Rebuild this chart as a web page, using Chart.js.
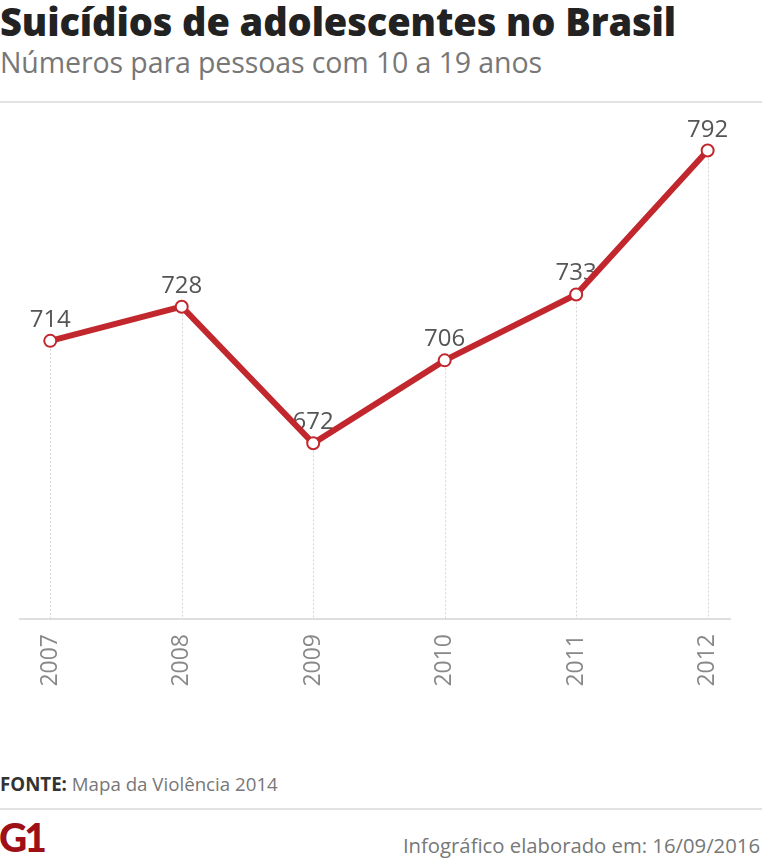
<!DOCTYPE html>
<html>
<head>
<meta charset="utf-8">
<script src="https://cdn.jsdelivr.net/npm/chart.js@4"></script>
<style>
  body { margin: 0; background: #fff; width: 762px; height: 860px; position: relative; overflow: hidden; font-family: "Open Sans", sans-serif; }
  .abs { position: absolute; white-space: nowrap; }
  #titulo { left: 0; top: -5px; font: 800 38px "Open Sans", sans-serif; color: #222; letter-spacing: -0.1px; }
  #subtitulo { left: 0; top: 43px; font: 400 28.5px "Open Sans", sans-serif; color: #777; letter-spacing: -0.1px; }
  .linha { position: absolute; left: 0; width: 762px; height: 2px; background: #e2e2e2; }
  #fonte { left: 0; top: 771px; font: 400 18.7px "Open Sans", sans-serif; color: #777; }
  #fonte b { color: #333; font-weight: 700; }
  #logo { left: -1px; top: 814px; font: 900 39px Lato, sans-serif; color: #9e0f16; letter-spacing: -3px; }
  #data { right: 2px; top: 831px; font: 400 20.3px "Open Sans", sans-serif; color: #777; }
  #grafico { position: absolute; left: 0; top: 102px; }
</style>
</head>
<body>
<div id="titulo" class="abs">Suicídios de adolescentes no Brasil</div>
<div id="subtitulo" class="abs">Números para pessoas com 10 a 19 anos</div>
<div class="linha" style="top:101px"></div>
<canvas id="grafico" width="762" height="590"></canvas>
<div id="fonte" class="abs"><b>FONTE:</b> Mapa da Violência 2014</div>
<div class="linha" style="top:808px"></div>
<div id="logo" class="abs">G1</div>
<div id="data" class="abs">Infográfico elaborado em: 16/09/2016</div>

<script>
// dados do grafico
var anos = [2007, 2008, 2009, 2010, 2011, 2012];
var suicidios = [714, 728, 672, 706, 733, 792];

var vermelho = '#c1272d';

// linhas verticais pontilhadas do ponto ate a base + rotulos
const linhasVerticais = {
    id: 'linhasVerticais',
    beforeDatasetsDraw(chart) {
        const ctx = chart.ctx;
        const meta = chart.getDatasetMeta(0);
        const base = chart.chartArea.bottom;
        ctx.save();
        ctx.strokeStyle = '#d6d6d6';
        ctx.lineWidth = 1;
        ctx.setLineDash([2, 2]);
        meta.data.forEach(function(p) {
            ctx.beginPath();
            ctx.moveTo(Math.round(p.x) + 0.5, p.y);
            ctx.lineTo(Math.round(p.x) + 0.5, base);
            ctx.stroke();
        });
        ctx.restore();

        // rotulos dos valores (ficam por baixo da linha)
        ctx.save();
        ctx.font = '400 24px "Open Sans", sans-serif';
        ctx.fillStyle = '#555';
        ctx.textAlign = 'center';
        ctx.textBaseline = 'alphabetic';
        meta.data.forEach(function(p, i) {
            ctx.fillText(suicidios[i], p.x, p.y - 14);
        });
        ctx.restore();
    }
};

var pontos = anos.map(function(a, i) { return { x: a, y: suicidios[i] }; });

const config = {
    type: 'line',
    data: {
        datasets: [{
            data: pontos,
            borderColor: vermelho,
            borderWidth: 6,
            pointRadius: 6,
            pointBorderWidth: 2,
            pointBackgroundColor: '#fff',
            pointBorderColor: vermelho,
            tension: 0
        }]
    },
    options: {
        responsive: false,
        animation: false,
        layout: { padding: { left: 20, right: 32, top: 29, bottom: 0 } },
        plugins: { legend: { display: false }, tooltip: { enabled: false } },
        scales: {
            x: {
                type: 'linear',
                min: 2006.77,
                max: 2012.17,
                grid: { display: false },
                border: { display: true, color: '#dedede', width: 2 },
                afterFit: function(scale) { scale.height = 73; },
                ticks: {
                    stepSize: 1,
                    includeBounds: false,
                    maxRotation: 90,
                    minRotation: 90,
                    padding: 7,
                    color: '#888',
                    font: { family: 'Open Sans', size: 23 },
                    callback: function(v) { return String(v); }
                }
            },
            y: {
                display: false,
                min: 600,
                max: 800
            }
        }
    },
    plugins: [linhasVerticais]
};

new Chart(document.getElementById('grafico').getContext('2d'), config);
</script>
</body>
</html>
